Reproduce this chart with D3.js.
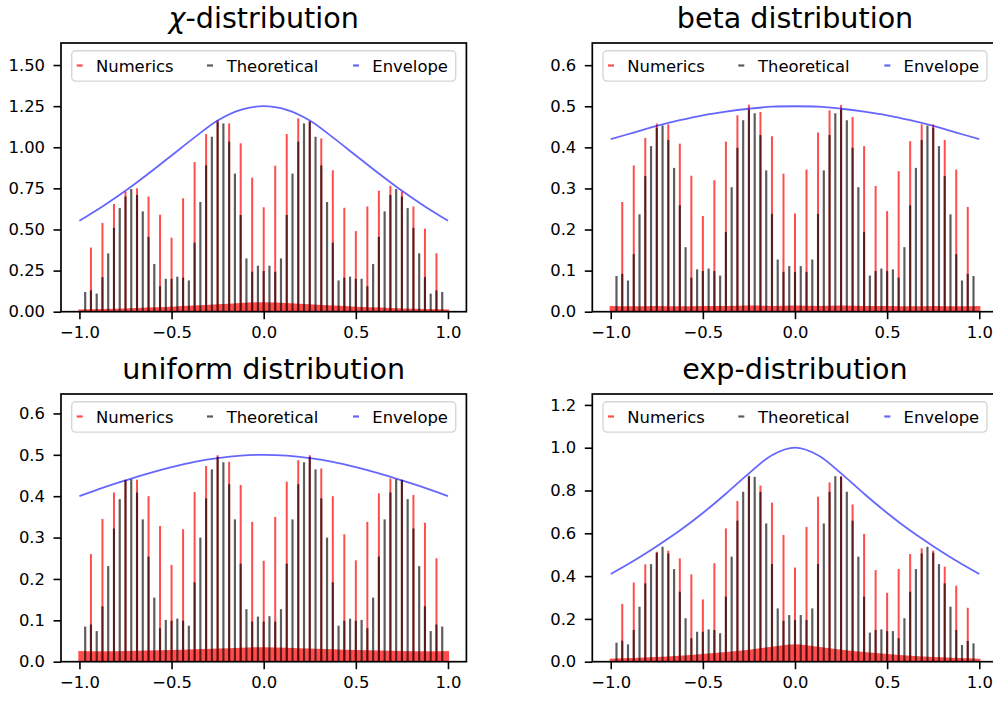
<!DOCTYPE html>
<html>
<head>
<meta charset="utf-8">
<script src="https://cdn.jsdelivr.net/npm/d3@7"></script>
<style>
  body { margin: 0; background: #fff; }
  text { font-family: "DejaVu Sans", sans-serif; }
</style>
</head>
<body>
<svg id="chart" width="993" height="701"></svg>
<script>
// grid of the theoretical bars (k/32) and of the numerical peaks (j/16)
const xTheory = d3.range(-31, 32).map(k => k / 32);
const xNumeric = d3.range(-15, 16).map(j => j / 16);
// envelope / noise floor sample points
const gridX = [-1, -0.875, -0.75, -0.625, -0.5, -0.375, -0.25, -0.125, 0,
  0.125, 0.25, 0.375, 0.5, 0.625, 0.75, 0.875, 1];

// chi-distribution
const chiTheory = [0.12, 0.13, 0.11, 0.21, 0.355, 0.51, 0.63, 0.70, 0.746, 0.71, 0.61, 0.455, 0.29, 0.155, 0.20, 0.20,
  0.213, 0.207, 0.19, 0.42, 0.667, 0.89, 1.064, 1.155, 1.145, 1.034, 0.84, 0.588, 0.324, 0.243, 0.28,
  0.247,
  0.28, 0.243, 0.324, 0.588, 0.84, 1.034, 1.145, 1.155, 1.064, 0.89, 0.667, 0.42, 0.19, 0.207, 0.213,
  0.20, 0.20, 0.155, 0.29, 0.455, 0.61, 0.71, 0.746, 0.70, 0.63, 0.51, 0.355, 0.21, 0.11, 0.13, 0.12];
const chiNumeric = [0.39, 0.54, 0.655, 0.73, 0.75, 0.70, 0.59, 0.45, 0.69, 0.91, 1.08, 1.166, 1.145, 1.024, 0.815,
  0.635,
  0.888, 1.08, 1.176, 1.16, 1.054, 0.86, 0.632, 0.49, 0.64, 0.736, 0.766, 0.73, 0.64, 0.505, 0.355];
const chiEnvelope = [0.553, 0.64, 0.735, 0.84, 0.95, 1.06, 1.163, 1.228, 1.25, 1.228, 1.163, 1.06, 0.95, 0.84, 0.735, 0.64, 0.553];
const chiFloor = [0.014, 0.017, 0.02, 0.025, 0.03, 0.037, 0.045, 0.053, 0.058, 0.053, 0.045, 0.037, 0.03, 0.025, 0.02, 0.017, 0.014];

// beta distribution
const betaTheory = [0.087, 0.092, 0.076, 0.14, 0.237, 0.33, 0.403, 0.448, 0.453, 0.418, 0.35, 0.259, 0.157, 0.083, 0.103, 0.099,
  0.105, 0.099, 0.088, 0.194, 0.303, 0.399, 0.466, 0.492, 0.483, 0.43, 0.344, 0.238, 0.127, 0.097, 0.111,
  0.0965,
  0.111, 0.097, 0.127, 0.238, 0.344, 0.43, 0.483, 0.492, 0.466, 0.399, 0.303, 0.194, 0.088, 0.099, 0.105,
  0.099, 0.103, 0.083, 0.157, 0.259, 0.35, 0.418, 0.453, 0.448, 0.403, 0.33, 0.237, 0.14, 0.076, 0.092, 0.087];
const betaNumeric = [0.267, 0.356, 0.423, 0.458, 0.456, 0.409, 0.331, 0.233, 0.32, 0.414, 0.478, 0.504, 0.486, 0.427, 0.336,
  0.239,
  0.346, 0.436, 0.49, 0.503, 0.474, 0.403, 0.306, 0.245, 0.342, 0.415, 0.456, 0.456, 0.418, 0.346, 0.255];
const betaEnvelope = [0.42, 0.436, 0.452, 0.466, 0.478, 0.487, 0.494, 0.499, 0.5, 0.499, 0.494, 0.487, 0.478, 0.466, 0.452, 0.436, 0.42];
const betaFloor = [0.014, 0.013, 0.014, 0.013, 0.014, 0.014, 0.015, 0.014, 0.015, 0.014, 0.015, 0.014, 0.014, 0.013, 0.014, 0.013, 0.014];

// uniform distribution
const uniformTheory = [0.085, 0.09, 0.074, 0.134, 0.231, 0.322, 0.393, 0.439, 0.441, 0.409, 0.344, 0.254, 0.155, 0.081, 0.101, 0.099,
  0.104, 0.099, 0.087, 0.192, 0.30, 0.395, 0.465, 0.495, 0.482, 0.429, 0.344, 0.237, 0.127, 0.097, 0.109,
  0.097,
  0.11, 0.097, 0.127, 0.237, 0.344, 0.429, 0.482, 0.495, 0.465, 0.395, 0.30, 0.192, 0.087, 0.099, 0.104,
  0.099, 0.101, 0.081, 0.155, 0.254, 0.344, 0.409, 0.441, 0.439, 0.393, 0.322, 0.231, 0.134, 0.074, 0.09, 0.085];
const uniformNumeric = [0.26, 0.345, 0.409, 0.44, 0.44, 0.40, 0.328, 0.234, 0.32, 0.41, 0.473, 0.499, 0.483, 0.427, 0.338,
  0.244,
  0.35, 0.435, 0.487, 0.499, 0.467, 0.40, 0.308, 0.245, 0.338, 0.407, 0.443, 0.44, 0.403, 0.336, 0.25];
const uniformEnvelope = [0.40, 0.42, 0.438, 0.455, 0.47, 0.483, 0.492, 0.498, 0.5, 0.498, 0.492, 0.483, 0.47, 0.455, 0.438, 0.42, 0.40];
const uniformFloor = [0.026, 0.025, 0.026, 0.027, 0.028, 0.03, 0.032, 0.034, 0.035, 0.034, 0.032, 0.03, 0.028, 0.027, 0.026, 0.025, 0.026];

// exp-distribution
const expTheory = [0.089, 0.098, 0.081, 0.148, 0.257, 0.366, 0.456, 0.509, 0.537, 0.506, 0.433, 0.327, 0.203, 0.11, 0.14, 0.14,
  0.151, 0.148, 0.133, 0.304, 0.491, 0.659, 0.794, 0.869, 0.864, 0.794, 0.646, 0.456, 0.249, 0.191, 0.218,
  0.195,
  0.218, 0.195, 0.249, 0.456, 0.646, 0.794, 0.867, 0.864, 0.794, 0.659, 0.491, 0.304, 0.136, 0.148, 0.151,
  0.143, 0.143, 0.11, 0.203, 0.327, 0.433, 0.506, 0.537, 0.509, 0.456, 0.366, 0.257, 0.148, 0.078, 0.097, 0.086];
const expNumeric = [0.27, 0.37, 0.455, 0.514, 0.519, 0.483, 0.408, 0.291, 0.46, 0.623, 0.751, 0.864, 0.823, 0.743, 0.592,
  0.44,
  0.63, 0.771, 0.838, 0.867, 0.735, 0.597, 0.428, 0.322, 0.433, 0.503, 0.53, 0.519, 0.444, 0.355, 0.252];
const expEnvelope = [0.41, 0.472, 0.54, 0.613, 0.695, 0.785, 0.88, 0.965, 1.0, 0.965, 0.88, 0.785, 0.695, 0.613, 0.54, 0.472, 0.41];
const expFloor = [0.014, 0.017, 0.022, 0.028, 0.036, 0.045, 0.056, 0.07, 0.082, 0.07, 0.056, 0.045, 0.036, 0.028, 0.022, 0.017, 0.014];

const xTicks = [-1, -0.5, 0, 0.5, 1];
const legendLabels = ["Numerics", "Theoretical", "Envelope"];

const panels = [
  {title: "distribution", chi: true, theory: chiTheory, numeric: chiNumeric, env: chiEnvelope, floor: chiFloor,
    yMax: 1.634, yTicks: [0, 0.25, 0.5, 0.75, 1, 1.25, 1.5], fmt: ".2f", left: 61, top: 43, bottom: 311.7},
  {title: "beta distribution", theory: betaTheory, numeric: betaNumeric, env: betaEnvelope, floor: betaFloor,
    yMax: 0.654, yTicks: [0, 0.1, 0.2, 0.3, 0.4, 0.5, 0.6], fmt: ".1f", left: 592.3, top: 43, bottom: 311.7},
  {title: "uniform distribution", theory: uniformTheory, numeric: uniformNumeric, env: uniformEnvelope, floor: uniformFloor,
    yMax: 0.647, yTicks: [0, 0.1, 0.2, 0.3, 0.4, 0.5, 0.6], fmt: ".1f", left: 61, top: 394, bottom: 661.7},
  {title: "exp-distribution", theory: expTheory, numeric: expNumeric, env: expEnvelope, floor: expFloor,
    yMax: 1.251, yTicks: [0, 0.2, 0.4, 0.6, 0.8, 1.0, 1.2], fmt: ".1f", left: 592.3, top: 394, bottom: 661.7}
];

const axW = 405.4;
const fontSize = 16.4;
const svg = d3.select("#chart");
svg.append("rect").attr("width", 993).attr("height", 701).attr("fill", "#fff");

const minus = s => s.replace("-", "\u2212");

panels.forEach(p => {
  const x = d3.scaleLinear().domain([-1.1, 1.1]).range([p.left, p.left + axW]);
  const y = d3.scaleLinear().domain([0, p.yMax]).range([p.bottom, p.top]);
  const g = svg.append("g");

  // clip so nothing leaks out of the axes box
  const clipId = "clip" + Math.round(p.left) + "_" + Math.round(p.top);
  g.append("clipPath").attr("id", clipId).append("rect")
    .attr("x", p.left).attr("y", p.top).attr("width", axW).attr("height", p.bottom - p.top);
  const plot = g.append("g").attr("clip-path", `url(#${clipId})`);

  // numerical histogram noise floor
  const floorArea = d3.area()
    .x((d, i) => x(gridX[i] * 1.006))
    .y0(y(0))
    .y1(d => y(d))
    .curve(d3.curveMonotoneX);
  plot.append("path").datum(p.floor).attr("d", floorArea)
    .attr("fill", "red").attr("fill-opacity", 0.7);

  // numerical peaks
  const wN = 0.0108, wT = 0.0118;
  plot.selectAll(".num").data(p.numeric).join("rect")
    .attr("x", (d, i) => x(xNumeric[i] - wN / 2))
    .attr("width", x(wN) - x(0))
    .attr("y", d => y(d))
    .attr("height", d => y(0) - y(d))
    .attr("fill", "red").attr("fill-opacity", 0.7);

  // theoretical bars
  plot.selectAll(".theo").data(p.theory).join("rect")
    .attr("x", (d, i) => x(xTheory[i] - wT / 2))
    .attr("width", x(wT) - x(0))
    .attr("y", d => y(d))
    .attr("height", d => y(0) - y(d))
    .attr("fill", "black").attr("fill-opacity", 0.64);

  // envelope
  const line = d3.line().x((d, i) => x(gridX[i])).y(d => y(d)).curve(d3.curveCatmullRom.alpha(0.5));
  plot.append("path").datum(p.env).attr("d", line)
    .attr("fill", "none").attr("stroke", "blue").attr("stroke-opacity", 0.6).attr("stroke-width", 1.8);

  // axes
  const yAxis = d3.axisLeft(y).tickValues(p.yTicks).tickFormat(d => d3.format(p.fmt)(d))
    .tickSize(7.5).tickPadding(8.5);
  const xAxis = d3.axisBottom(x).tickValues(xTicks).tickFormat(d => minus(d3.format(".1f")(d)))
    .tickSize(7.5).tickPadding(7.5);
  const ya = g.append("g").attr("transform", `translate(${p.left},0)`).call(yAxis);
  const xa = g.append("g").attr("transform", `translate(0,${p.bottom})`).call(xAxis);
  [ya, xa].forEach(a => {
    a.select(".domain").remove();
    a.selectAll("line").attr("stroke", "#000").attr("stroke-width", 1.6);
    a.selectAll("text").attr("font-size", fontSize).attr("fill", "#000")
      .attr("font-family", "'DejaVu Sans', sans-serif");
  });

  // frame
  g.append("rect").attr("x", p.left).attr("y", p.top).attr("width", axW).attr("height", p.bottom - p.top)
    .attr("fill", "none").attr("stroke", "#000").attr("stroke-width", 1.7);

  // title
  const t = g.append("text").attr("x", p.left + axW / 2).attr("y", p.top - 14.7)
    .attr("text-anchor", "middle").attr("font-size", 28.6).attr("fill", "#000");
  if (p.chi) {
    t.append("tspan").attr("font-style", "italic").text("\u03c7");
    t.append("tspan").text("-" + p.title);
  } else {
    t.text(p.title);
  }

  // legend
  const lg = g.append("g").attr("transform", `translate(${p.left + 10.7},${p.top + 7.8})`);
  lg.append("rect").attr("width", 384).attr("height", 30.3).attr("rx", 4)
    .attr("fill", "#fff").attr("fill-opacity", 0.8)
    .attr("stroke", "#d6d6d6").attr("stroke-width", 1.4);
  const handleX = [5, 135.3, 281.3];
  const textX = [24.3, 155, 300.6];
  const colors = [["red", 0.7], ["black", 0.64], ["blue", 0.6]];
  legendLabels.forEach((lab, i) => {
    lg.append("rect").attr("x", handleX[i]).attr("y", 13.6).attr("width", 6).attr("height", 2.2)
      .attr("fill", colors[i][0]).attr("fill-opacity", colors[i][1]);
    lg.append("text").attr("x", textX[i]).attr("y", 21.1).attr("font-size", fontSize).attr("fill", "#000").text(lab);
  });
});
</script>
</body>
</html>
